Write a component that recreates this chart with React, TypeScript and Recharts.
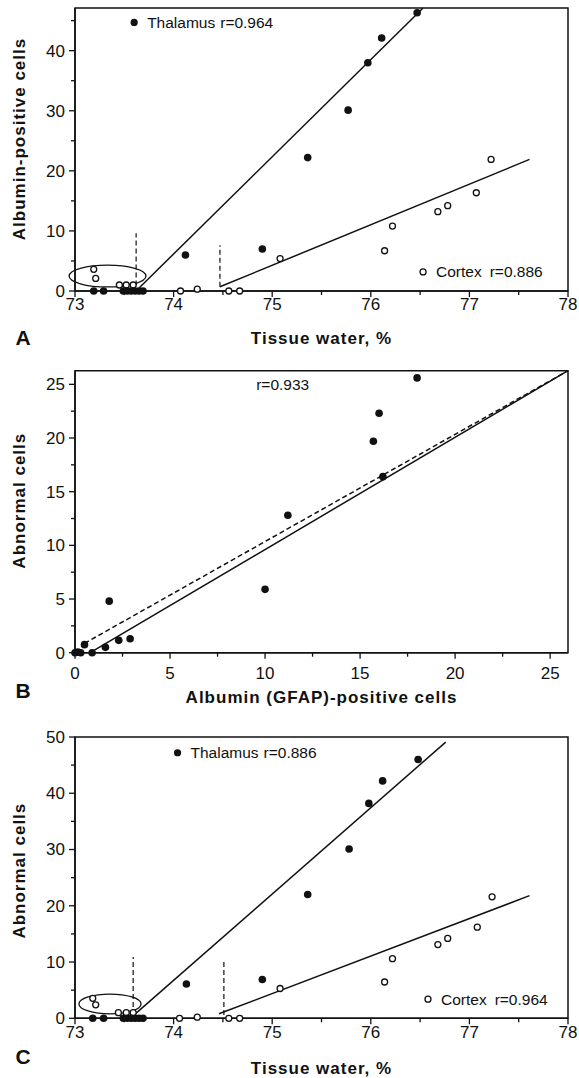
import React from "react";
import {
  ScatterChart,
  Scatter,
  XAxis,
  YAxis,
  ReferenceLine,
  ReferenceArea,
  ReferenceDot,
  Label,
} from "recharts";

const FONT = '"Liberation Sans", Arial, Helvetica, sans-serif';
const INK = "#111";

// ---- panel A: albumin-positive cells vs tissue water
const waterMajor = [73, 74, 75, 76, 77, 78];
const waterMinor = [73.5, 74.5, 75.5, 76.5, 77.5];
const albuminMajor = [0, 10, 20, 30, 40];
const albuminMinor = [5, 15, 25, 35, 45];

const thalWaterA = [73.19, 73.29, 73.49, 73.53, 73.57, 73.61, 73.65, 73.69, 74.12, 74.9, 75.36, 75.77, 75.97, 76.11, 76.47];
const thalCellsA = [0, 0, 0, 0, 0, 0, 0, 0, 6.0, 7.0, 22.2, 30.1, 38.0, 42.1, 46.3];
const ctxWaterA = [73.19, 73.21, 73.45, 73.52, 73.59, 74.07, 74.24, 74.56, 74.67, 75.08, 76.14, 76.22, 76.68, 76.78, 77.07, 77.22];
const ctxCellsA = [3.6, 2.1, 1.0, 1.0, 1.0, 0, 0.3, 0, 0, 5.4, 6.7, 10.8, 13.2, 14.2, 16.35, 21.9];
const thalFitA = [[73.65, 0.5], [76.53, 47.1]];
const ctxFitA = [[74.47, 0.7], [77.61, 21.9]];

// ---- panel B: abnormal cells vs albumin (GFAP)-positive cells
const gfapMajor = [0, 5, 10, 15, 20, 25];
const gfapMinor = [2.5, 7.5, 12.5, 17.5, 22.5];
const albuminB = [0, 0.15, 0.3, 0.5, 0.9, 1.6, 1.8, 2.3, 2.9, 10.0, 11.2, 15.7, 16.0, 16.2, 18.0];
const abnormalB = [0, 0.05, 0, 0.75, 0, 0.5, 4.8, 1.15, 1.3, 5.9, 12.8, 19.7, 22.3, 16.4, 25.6];
const solidFitB = [[0.8, 0], [25.94, 26.27]];
const dashedFitB = [[0.5, 0.87], [25.94, 26.27]];

// ---- panel C: abnormal cells vs tissue water
const abnormalMajor = [0, 10, 20, 30, 40, 50];
const abnormalMinor = [5, 15, 25, 35, 45];
const thalWaterC = [73.18, 73.29, 73.49, 73.53, 73.57, 73.61, 73.65, 73.69, 74.13, 74.9, 75.36, 75.78, 75.98, 76.12, 76.48];
const thalCellsC = [0, 0, 0, 0, 0, 0, 0, 0, 6.1, 6.9, 22.0, 30.1, 38.2, 42.2, 46.0];
const ctxWaterC = [73.18, 73.21, 73.44, 73.52, 73.59, 74.06, 74.24, 74.56, 74.67, 75.08, 76.14, 76.22, 76.68, 76.78, 77.08, 77.23];
const ctxCellsC = [3.55, 2.4, 1.0, 1.0, 1.0, 0, 0.2, 0, 0, 5.3, 6.45, 10.6, 13.1, 14.2, 16.2, 21.6];
const thalFitC = [[73.6, 0.6], [76.76, 49.1]];
const ctxFitC = [[74.46, 0.8], [77.61, 21.8]];

const zip = (xs: number[], ys: number[]) => xs.map((x, i) => ({ x, y: ys[i] }));
const seg = (s: number[][]) => s.map(([x, y]) => ({ x, y }));

const FilledDot = (p: any) => <circle cx={p.cx} cy={p.cy} r={3.8} fill={INK} />;
const OpenDot = (p: any) => (
  <circle cx={p.cx} cy={p.cy} r={3} fill="#fff" stroke={INK} strokeWidth={1.3} />
);

const tickText = { fontSize: 17, fontFamily: FONT, fill: INK };
const titleText = { fontSize: 17, fontFamily: FONT, fill: INK, fontWeight: 700, letterSpacing: 1 };

function xTick(major: number[], gap: number) {
  return (props: any) => {
    const { x, y, payload } = props;
    const isMajor = major.includes(payload.value);
    return (
      <g>
        <line x1={x} x2={x} y1={y} y2={y + (isMajor ? 6 : 4)} stroke={INK} strokeWidth={1.3} />
        {isMajor && (
          <text x={x} y={y + gap} dy="0.35em" textAnchor="middle" {...tickText}>
            {payload.value}
          </text>
        )}
      </g>
    );
  };
}

function yTick(major: number[]) {
  return (props: any) => {
    const { x, y, payload } = props;
    const isMajor = major.includes(payload.value);
    return (
      <g>
        <line x1={x - (isMajor ? 6 : 4)} x2={x} y1={y} y2={y} stroke={INK} strokeWidth={1.3} />
        {isMajor && (
          <text x={x - 10} y={y} dy="0.35em" textAnchor="end" {...tickText}>
            {payload.value}
          </text>
        )}
      </g>
    );
  };
}

function xTitle(text: string, letter: string, titleDy: number, letterDy: number) {
  return (props: any) => {
    const vb = props.viewBox;
    return (
      <g>
        <text x={vb.x + vb.width / 2} y={vb.y + titleDy} dy="0.35em" textAnchor="middle" {...titleText}>
          {text}
        </text>
        <text x={23} y={vb.y + letterDy} dy="0.35em" textAnchor="middle" fontSize={21} fontWeight={700} fontFamily={FONT} fill={INK}>
          {letter}
        </text>
      </g>
    );
  };
}

function yTitle(text: string, shift: number) {
  return (props: any) => {
    const vb = props.viewBox;
    const cx = 19;
    const cy = vb.y + vb.height / 2 + shift;
    return (
      <text x={cx} y={cy} dy="0.35em" textAnchor="middle" transform={`rotate(-90, ${cx}, ${cy})`} {...titleText}>
        {text}
      </text>
    );
  };
}

function legendText(name: string, r: string, gap: number) {
  return (props: any) => {
    const vb = props.viewBox;
    const cx = vb.x + vb.width / 2;
    const cy = vb.y + vb.height / 2;
    return (
      <text x={cx + 13} y={cy} dy="0.35em" fontSize={15.5} fontFamily={FONT} fill={INK}>
        {name}
        {r && <tspan dx={gap}>{r}</tspan>}
      </text>
    );
  };
}

const ellipseShape = (p: any) => (
  <ellipse
    cx={p.x + p.width / 2}
    cy={p.y + p.height / 2}
    rx={Math.abs(p.width) / 2}
    ry={Math.abs(p.height) / 2}
    fill="none"
    stroke={INK}
    strokeWidth={1.3}
  />
);

const lineStyle = { stroke: INK, strokeWidth: 1.5, ifOverflow: "visible" as const };
const dashStyle = { stroke: INK, strokeWidth: 1.2, strokeDasharray: "5 3", ifOverflow: "visible" as const };

function WaterPanel(props: {
  height: number;
  top: number;
  axisH: number;
  yMax: number;
  yMajor: number[];
  yMinor: number[];
  yLabel: string;
  yShift: number;
  letter: string;
  tickGap: number;
  titleDy: number;
  letterDy: number;
  thal: { x: number; y: number }[];
  ctx: { x: number; y: number }[];
  thalFit: number[][];
  ctxFit: number[][];
  dashes: number[][];
  ellipse: number[];
  thalLegend: number[];
  ctxLegend: number[];
  thalR: string;
  ctxR: string;
}) {
  const p = props;
  return (
    <ScatterChart width={579} height={p.height} margin={{ top: p.top, right: 11, bottom: 0, left: 0 }}>
      <XAxis
        type="number"
        dataKey="x"
        domain={[73, 78]}
        ticks={[...waterMajor, ...waterMinor].sort((a, b) => a - b)}
        interval={0}
        height={p.axisH}
        tickLine={false}
        tickSize={0}
        tickMargin={0}
        axisLine={{ stroke: INK, strokeWidth: 1.5 }}
        tick={xTick(waterMajor, p.tickGap)}
      >
        <Label content={xTitle("Tissue water, %", p.letter, p.titleDy, p.letterDy)} />
      </XAxis>
      <YAxis
        type="number"
        dataKey="y"
        domain={[0, p.yMax]}
        ticks={[...p.yMajor, ...p.yMinor].sort((a, b) => a - b)}
        interval={0}
        width={75}
        tickLine={false}
        tickSize={0}
        tickMargin={0}
        axisLine={{ stroke: INK, strokeWidth: 1.5 }}
        tick={yTick(p.yMajor)}
      >
        <Label content={yTitle(p.yLabel, p.yShift)} />
      </YAxis>
      <ReferenceArea x1={73} x2={78} y1={0} y2={p.yMax} fill="none" fillOpacity={0} stroke={INK} strokeWidth={1.5} ifOverflow="visible" />
      <ReferenceArea x1={p.ellipse[0]} x2={p.ellipse[1]} y1={p.ellipse[2]} y2={p.ellipse[3]} ifOverflow="visible" shape={ellipseShape} />
      <ReferenceLine segment={seg(p.thalFit)} {...lineStyle} />
      <ReferenceLine segment={seg(p.ctxFit)} {...lineStyle} />
      {p.dashes.map((d, i) => (
        <ReferenceLine key={i} segment={[{ x: d[0], y: d[1] }, { x: d[0], y: d[2] }]} {...dashStyle} />
      ))}
      <ReferenceDot x={p.thalLegend[0]} y={p.thalLegend[1]} r={3.6} fill={INK} stroke="none" ifOverflow="visible" label={legendText("Thalamus", p.thalR, 5)} />
      <ReferenceDot x={p.ctxLegend[0]} y={p.ctxLegend[1]} r={3} fill="#fff" stroke={INK} strokeWidth={1.3} ifOverflow="visible" label={legendText("Cortex", p.ctxR, 8)} />
      <Scatter data={p.ctx} shape={OpenDot} isAnimationActive={false} />
      <Scatter data={p.thal} shape={FilledDot} isAnimationActive={false} />
    </ScatterChart>
  );
}

function PanelB() {
  return (
    <ScatterChart width={579} height={372} margin={{ top: 20.7, right: 11, bottom: 0, left: 0 }}>
      <XAxis
        type="number"
        dataKey="x"
        domain={[0, 25.94]}
        ticks={[...gfapMajor, ...gfapMinor].sort((a, b) => a - b)}
        interval={0}
        height={69.3}
        tickLine={false}
        tickSize={0}
        tickMargin={0}
        axisLine={{ stroke: INK, strokeWidth: 1.5 }}
        tick={xTick(gfapMajor, 20)}
      >
        <Label content={xTitle("Albumin (GFAP)-positive cells", "B", 44, 37.5)} />
      </XAxis>
      <YAxis
        type="number"
        dataKey="y"
        domain={[0, 26.27]}
        ticks={[...gfapMajor, ...gfapMinor].sort((a, b) => a - b)}
        interval={0}
        width={75}
        tickLine={false}
        tickSize={0}
        tickMargin={0}
        axisLine={{ stroke: INK, strokeWidth: 1.5 }}
        tick={yTick(gfapMajor)}
      >
        <Label content={yTitle("Abnormal cells", -11)} />
      </YAxis>
      <ReferenceArea x1={0} x2={25.94} y1={0} y2={26.27} fill="none" fillOpacity={0} stroke={INK} strokeWidth={1.5} ifOverflow="visible" />
      <ReferenceLine segment={seg(solidFitB)} {...lineStyle} />
      <ReferenceLine segment={seg(dashedFitB)} {...dashStyle} strokeWidth={1.5} />
      <ReferenceDot x={8.85} y={25.0} r={0} fill="none" stroke="none" ifOverflow="visible" label={legendText("", "r=0.933", 0)} />
      <Scatter data={zip(albuminB, abnormalB)} shape={FilledDot} isAnimationActive={false} />
    </ScatterChart>
  );
}

export default function App() {
  return (
    <div style={{ position: "absolute", left: 0, top: 0, width: 579, height: 1078, background: "#fff", overflow: "hidden" }}>
      <div style={{ position: "absolute", left: 0, top: 0 }}>
        <WaterPanel
          height={350}
          top={8}
          axisH={59}
          yMax={47.1}
          yMajor={albuminMajor}
          yMinor={albuminMinor}
          yLabel="Albumin-positive cells"
          yShift={-10.5}
          letter="A"
          tickGap={13}
          titleDy={47}
          letterDy={47}
          thal={zip(thalWaterA, thalCellsA)}
          ctx={zip(ctxWaterA, ctxCellsA)}
          thalFit={thalFitA}
          ctxFit={ctxFitA}
          dashes={[[73.62, 0.9, 9.6], [74.47, 0.7, 7.6]]}
          ellipse={[72.94, 73.72, 0.67, 4.3]}
          thalLegend={[73.6, 44.7]}
          ctxLegend={[76.53, 3.17]}
          thalR="r=0.964"
          ctxR="r=0.886"
        />
      </div>
      <div style={{ position: "absolute", left: 0, top: 350 }}>
        <PanelB />
      </div>
      <div style={{ position: "absolute", left: 0, top: 722 }}>
        <WaterPanel
          height={356}
          top={15}
          axisH={59.7}
          yMax={50}
          yMajor={abnormalMajor}
          yMinor={abnormalMinor}
          yLabel="Abnormal cells"
          yShift={-7}
          letter="C"
          tickGap={14}
          titleDy={50}
          letterDy={38.4}
          thal={zip(thalWaterC, thalCellsC)}
          ctx={zip(ctxWaterC, ctxCellsC)}
          thalFit={thalFitC}
          ctxFit={ctxFitC}
          dashes={[[73.59, 0.6, 10.9], [74.51, 0.6, 10.4]]}
          ellipse={[73.04, 73.67, 0.8, 4.3]}
          thalLegend={[74.04, 47.2]}
          ctxLegend={[76.58, 3.4]}
          thalR="r=0.886"
          ctxR="r=0.964"
        />
      </div>
    </div>
  );
}
